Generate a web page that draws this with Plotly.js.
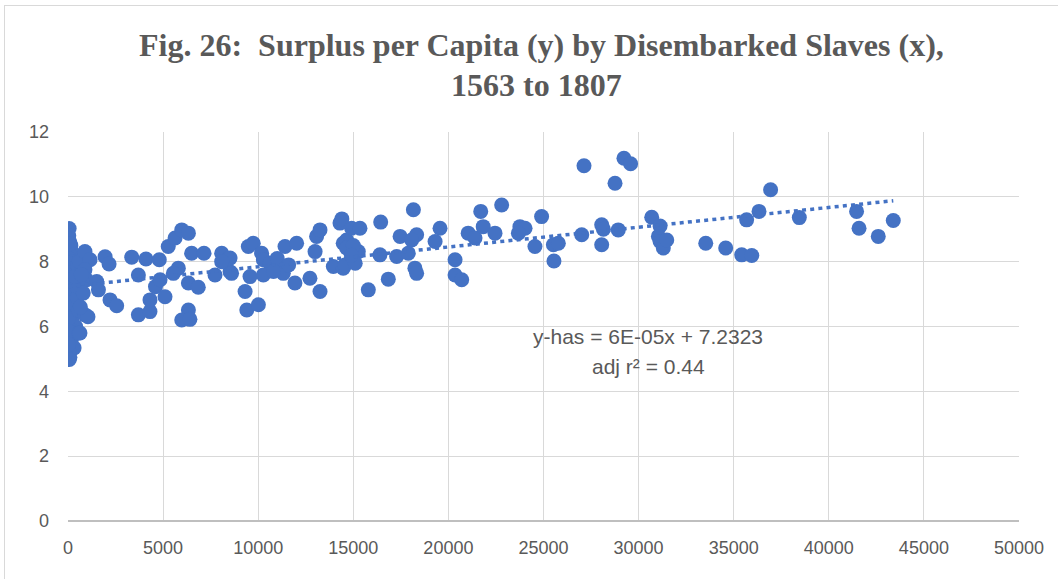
<!DOCTYPE html>
<html>
<head>
<meta charset="utf-8">
<script src="https://cdn.plot.ly/plotly-3.0.1.min.js"></script>
<style>
  html, body { margin: 0; padding: 0; background: #fff; }
  #chart { position: absolute; left: 0; top: 0; width: 1058px; height: 579px; }
  #frame { position: absolute; left: 4px; top: 5px; width: 1100px; height: 620px;
           border: 1px solid #d9d9d9; pointer-events: none; }
</style>
</head>
<body>
<div id="chart"></div>
<div id="frame"></div>
<script>
// Disembarked slaves (x) and surplus per capita (y)
const slavesX = [
  60, 100, 150, 80, 200, 120, 60, 250, 100, 180, 60, 300, 140, 90, 220, 60, 350, 120, 200, 80,
  420, 150, 60, 300, 100, 200, 60, 400, 130, 250, 70, 180, 100, 320, 60, 100, 70, 40, 30, 50,
  40, 30, 30, 40, 30, 40, 30, 500, 450, 550, 580, 480, 600, 420, 380,
  890, 1160, 890, 980, 800, 890, 1050, 630, 700, 650,
  1950, 2160, 3350, 4100, 4800, 3700, 1510, 1600, 2210, 2560, 3700, 4310, 4310, 4600, 4840, 5100,
  5270, 5630, 5980, 6330, 5800, 5540, 6330, 6850, 6330, 5980, 6410, 6500, 7150,
  8080, 8340, 7730, 8520, 8520, 8080, 8600,
  9480, 9740, 9310, 9400, 10010, 9570, 10180, 10270, 10620, 10970, 10270, 11320, 11410, 12020,
  11930, 12720, 13250, 12990, 13070, 13250, 13950, 14470, 14470, 14300, 14400, 11000, 10800, 11600,
  14650, 14910, 15350, 14650, 14830, 14560, 15260, 15000, 15100, 14900,
  16400, 16440, 15790, 16840, 17280, 17460, 17890, 18240, 18330, 18330, 18160, 18070,
  19560, 19300, 20350, 20350, 20700, 21040, 21400, 21700, 21830, 22450, 22800,
  23760, 24030, 23680, 24550, 24900, 25520, 25780, 25550, 27010,
  27130, 29230, 29580, 28760, 28060, 28060, 28150, 28930,
  30690, 31130, 31040, 31130, 31300, 31480, 33530, 34580, 35420, 35950, 35680, 36330, 36940, 38450,
  41460, 41590, 42600, 43390
];
const surplusY = [
  9.02, 8.6, 8.5, 8.4, 8.3, 8.2, 8.1, 8.0, 7.9, 7.8, 7.7, 7.6, 7.5, 7.4, 7.3, 7.2, 7.1, 7.0, 6.9, 6.8,
  6.7, 6.6, 6.5, 6.4, 6.3, 6.2, 6.1, 6.0, 5.9, 5.8, 5.7, 5.6, 5.5, 5.34, 5.2, 5.05, 4.98, 8.8, 8.7, 8.55,
  7.95, 7.65, 7.15, 6.75, 6.25, 5.85, 5.45, 7.9, 7.4, 6.5, 5.8, 6.9, 8.0, 7.25, 7.55,
  8.31, 8.06, 7.75, 7.44, 7.03, 6.36, 6.3, 5.8, 7.6, 6.6,
  8.15, 7.93, 8.14, 8.08, 8.06, 7.59, 7.39, 7.13, 6.82, 6.64, 6.36, 6.46, 6.82, 7.23, 7.44, 6.92,
  8.47, 8.73, 8.98, 8.88, 7.80, 7.64, 7.34, 7.21, 6.51, 6.20, 6.22, 8.26, 8.26,
  8.26, 8.06, 7.59, 7.69, 8.11, 8.00, 7.64,
  8.47, 8.57, 7.08, 6.51, 6.67, 7.54, 8.26, 8.06, 7.95, 7.75, 7.59, 7.64, 8.47, 8.57,
  7.34, 7.49, 7.08, 8.31, 8.78, 8.98, 7.85, 7.80, 8.57, 9.19, 9.32, 8.10, 7.70, 7.90,
  8.67, 9.03, 9.03, 8.42, 8.00, 7.90, 8.31, 8.50, 7.95, 8.20,
  8.21, 9.22, 7.13, 7.46, 8.16, 8.78, 8.26, 7.80, 7.64, 8.83, 9.60, 8.67,
  9.03, 8.62, 8.06, 7.59, 7.44, 8.88, 8.73, 9.55, 9.08, 8.88, 9.75,
  9.08, 9.03, 8.88, 8.47, 9.39, 8.52, 8.57, 8.02, 8.83,
  10.96, 11.19, 11.02, 10.42, 9.14, 8.52, 9.00, 8.98,
  9.37, 9.10, 8.78, 8.62, 8.42, 8.67, 8.57, 8.42, 8.21, 8.19, 9.29, 9.55, 10.22, 9.36,
  9.55, 9.03, 8.78, 9.27
];
// Linear trendline (fitted), drawn over the data range
const trendIntercept = 7.2323;
const trendSlope = 6.1e-5;
const trendX = [0, 43390];
const trendY = trendX.map(x => trendIntercept + trendSlope * x);

const xTicks = [0, 5000, 10000, 15000, 20000, 25000, 30000, 35000, 40000, 45000, 50000];
const yTicks = [0, 2, 4, 6, 8, 10, 12];
const eqLabel = 'y-has = 6E-05x + 7.2323';
const r2Label = 'adj r² = 0.44';
const titleLines = ['Fig. 26:  Surplus per Capita (y) by Disembarked Slaves (x),', '1563 to 1807'];

const blue = '#4472C4';
const textGrey = '#595959';
const sansFamily = '"Liberation Sans Narrow", "Arial Narrow", "Liberation Sans", Arial, sans-serif';
const tickFont = { family: sansFamily, size: 18, color: textGrey };
const titleFont = { family: '"Liberation Serif", "Times New Roman", serif', size: 32, color: textGrey, weight: 'bold' };

const data = [
  {
    x: slavesX, y: surplusY, type: 'scatter', mode: 'markers',
    marker: { color: blue, size: 15 },
    hoverinfo: 'x+y'
  },
  {
    x: trendX, y: trendY, type: 'scatter', mode: 'lines',
    line: { color: blue, width: 3.5, dash: '4px,4.2px' },
    hoverinfo: 'skip'
  }
];

const layout = {
  width: 1058, height: 579,
  margin: { l: 68, r: 39, t: 132, b: 58 },
  paper_bgcolor: 'rgba(0,0,0,0)',
  plot_bgcolor: '#ffffff',
  showlegend: false,
  title: { text: '' },
  xaxis: {
    range: [0, 50000], tickvals: xTicks, ticktext: xTicks.map(String),
    showgrid: true, gridcolor: '#d9d9d9', gridwidth: 1,
    zeroline: false, showline: false, ticks: '',
    tickfont: tickFont, ticklabelstandoff: 14, fixedrange: true
  },
  yaxis: {
    range: [0, 12], tickvals: yTicks, ticktext: yTicks.map(String),
    showgrid: true, gridcolor: '#d9d9d9', gridwidth: 1,
    zeroline: true, zerolinecolor: '#bfbfbf', zerolinewidth: 1.5,
    showline: false, ticks: '',
    tickfont: tickFont, ticklabelstandoff: 18, fixedrange: true
  },
  annotations: [
    { x: 0.4984, y: 1.2237, xref: 'paper', yref: 'paper', text: titleLines[0], showarrow: false,
      font: titleFont, xanchor: 'center', yanchor: 'middle' },
    { x: 0.493, y: 1.1208, xref: 'paper', yref: 'paper', text: titleLines[1], showarrow: false,
      font: titleFont, xanchor: 'center', yanchor: 'middle' },
    { x: 30494, y: 5.68, xref: 'x', yref: 'y', text: eqLabel, showarrow: false,
      font: { family: sansFamily, size: 21, color: textGrey }, xanchor: 'center', yanchor: 'middle' },
    { x: 30494, y: 4.78, xref: 'x', yref: 'y', text: r2Label, showarrow: false,
      font: { family: sansFamily, size: 21, color: textGrey }, xanchor: 'center', yanchor: 'middle' }
  ]
};

Plotly.newPlot('chart', data, layout, { displayModeBar: false, staticPlot: true });
</script>
</body>
</html>
